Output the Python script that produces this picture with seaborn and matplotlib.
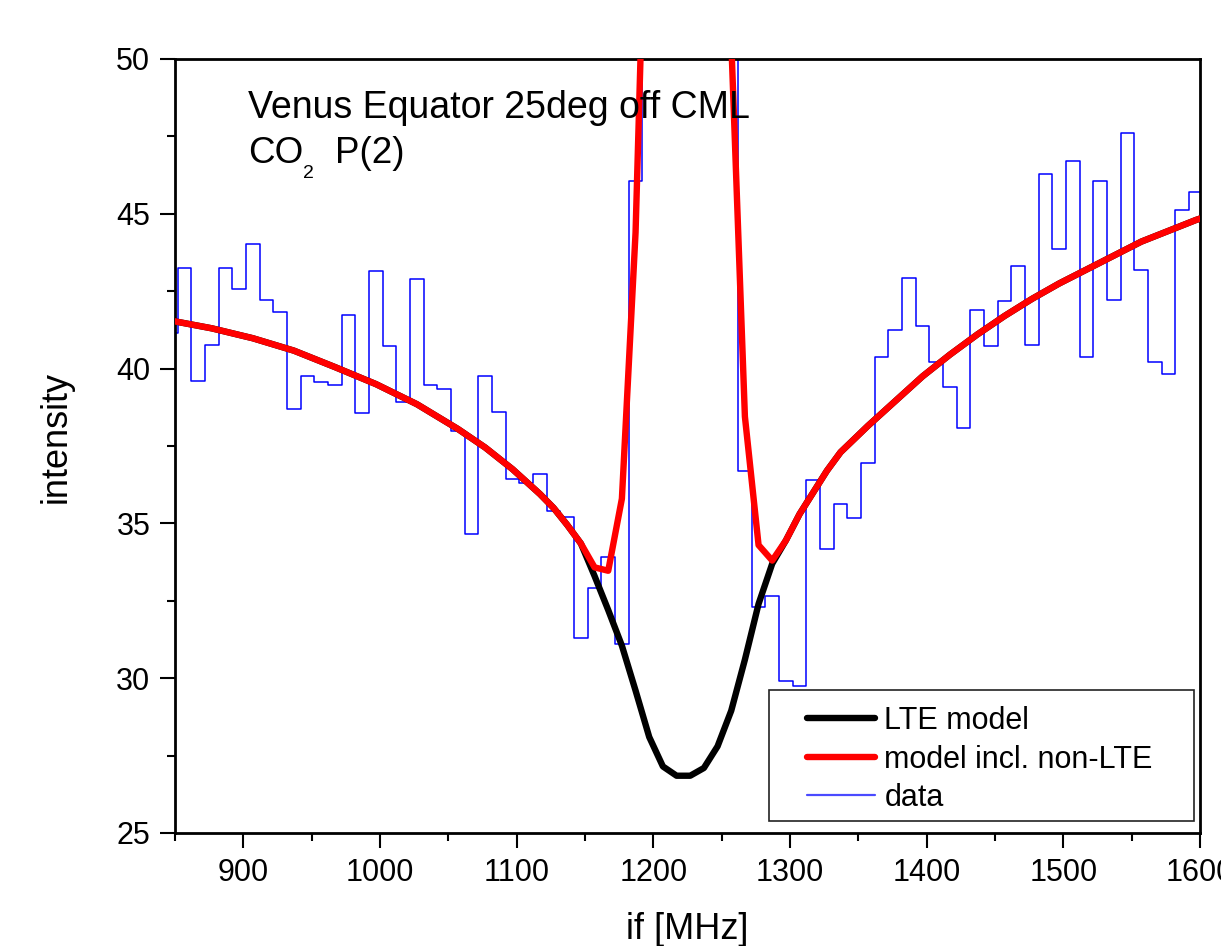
import numpy as np
import pandas as pd
import matplotlib
matplotlib.use("Agg")
import matplotlib.pyplot as plt
from matplotlib.ticker import MultipleLocator
from matplotlib.patches import Rectangle
from matplotlib.lines import Line2D
import seaborn as sns

# ---------------- data ----------------
# observed spectrum: bin centres (MHz) and intensities (bins above 50 are off-scale, estimated)
data_freq = [847, 857, 867, 877, 887, 897, 907, 917, 927, 937,
             947, 957, 967, 977, 987, 997, 1007, 1017, 1027, 1037,
             1047, 1057, 1067, 1077, 1087, 1097, 1107, 1117, 1127, 1137,
             1147, 1157, 1167, 1177, 1187, 1197, 1207, 1217, 1227, 1237,
             1247, 1257, 1267, 1277, 1287, 1297, 1307, 1317, 1327, 1337,
             1347, 1357, 1367, 1377, 1387, 1397, 1407, 1417, 1427, 1437,
             1447, 1457, 1467, 1477, 1487, 1497, 1507, 1517, 1527, 1537,
             1547, 1557, 1567, 1577, 1587, 1597, 1607]
data_int = [41.14, 43.24, 39.61, 40.76, 43.25, 42.56, 44.04, 42.22, 41.82, 38.69,
            39.75, 39.58, 39.46, 41.73, 38.56, 43.16, 40.74, 38.91, 42.89, 39.47,
            39.34, 38.00, 34.65, 39.75, 38.60, 36.42, 36.30, 36.59, 35.39, 35.20,
            31.29, 32.91, 33.93, 31.10, 46.06, 58.0, 68.0, 76.0, 78.0, 72.0,
            64.0, 54.0, 36.70, 32.31, 32.65, 29.92, 29.76, 36.39, 34.16, 35.63,
            35.18, 36.94, 40.36, 41.25, 42.93, 41.39, 40.20, 39.40, 38.09, 41.89,
            40.73, 42.18, 43.31, 40.77, 46.29, 43.87, 46.72, 40.37, 46.07, 42.23,
            47.61, 43.17, 40.20, 39.84, 45.11, 45.69, 45.50]

# model curves (MHz, intensity)
model_freq = [847, 877, 907, 937, 967, 997, 1027, 1057, 1077, 1097,
              1117, 1127, 1137, 1147, 1157, 1167, 1177, 1187, 1197, 1207,
              1217, 1227, 1237, 1247, 1257, 1267, 1277, 1287, 1297, 1307,
              1317, 1327, 1337, 1357, 1377, 1397, 1417, 1437, 1457, 1477,
              1497, 1517, 1537, 1557, 1577, 1597, 1607]
lte_model = [41.55, 41.30, 40.98, 40.58, 40.05, 39.50, 38.85, 38.05, 37.45, 36.75,
             35.95, 35.50, 34.95, 34.35, 33.30, 32.20, 31.05, 29.60, 28.10, 27.15,
             26.85, 26.85, 27.10, 27.80, 28.95, 30.60, 32.40, 33.70, 34.45, 35.30,
             36.00, 36.70, 37.30, 38.15, 38.95, 39.75, 40.45, 41.10, 41.70, 42.25,
             42.75, 43.20, 43.65, 44.10, 44.45, 44.80, 44.95]
nonlte_model = [41.55, 41.30, 40.98, 40.58, 40.05, 39.50, 38.85, 38.05, 37.45, 36.75,
                35.95, 35.50, 34.95, 34.35, 33.58, 33.47, 35.80, 44.40, 60.0, 68.0,
                72.0, 70.0, 64.0, 56.0, 50.6, 38.45, 34.30, 33.80, 34.45, 35.30,
                36.00, 36.70, 37.30, 38.15, 38.95, 39.75, 40.45, 41.10, 41.70, 42.25,
                42.75, 43.20, 43.65, 44.10, 44.45, 44.80, 44.95]

legend_labels = ["LTE model", "model incl. non-LTE", "data"]
title_line1 = "Venus Equator 25deg off CML"
x_label = "if [MHz]"
y_label = "intensity"

# ---------------- style ----------------
sns.set_style("ticks")
plt.rcParams["font.family"] = ["Liberation Sans", "DejaVu Sans"]
plt.rcParams["text.color"] = "black"
plt.rcParams["axes.labelcolor"] = "black"
plt.rcParams["xtick.color"] = "black"
plt.rcParams["ytick.color"] = "black"

W, H = 1221, 946
fig = plt.figure(figsize=(W / 100, H / 100), dpi=100)
ax = fig.add_axes([175 / W, 1 - 833 / H, (1200 - 175) / W, (833 - 59) / H])

df_data = pd.DataFrame({"freq": data_freq, "intensity": data_int})
df_model = pd.DataFrame({"freq": model_freq, "lte": lte_model, "nonlte": nonlte_model})

sns.lineplot(data=df_data, x="freq", y="intensity", ax=ax, color="#0000ff",
             linewidth=1.1, drawstyle="steps-mid", estimator=None, zorder=2)
sns.lineplot(data=df_model, x="freq", y="lte", ax=ax, color="black",
             linewidth=4.6, estimator=None, sort=False, zorder=3)
sns.lineplot(data=df_model, x="freq", y="nonlte", ax=ax, color="#ff0000",
             linewidth=4.6, estimator=None, sort=False, zorder=4)

ax.set_xlim(850, 1600)
ax.set_ylim(25, 50)
ax.xaxis.set_major_locator(MultipleLocator(100))
ax.xaxis.set_minor_locator(MultipleLocator(50))
ax.yaxis.set_major_locator(MultipleLocator(5))
ax.yaxis.set_minor_locator(MultipleLocator(2.5))
ax.tick_params(which="major", direction="out", length=10.8, width=1.5,
               labelsize=22, pad=7, color="black", labelcolor="black")
ax.tick_params(which="minor", direction="out", length=5.6, width=1.5, color="black")
for s in ax.spines.values():
    s.set_linewidth(2.0)
    s.set_color("black")
    s.set_visible(True)

ax.set_xlabel(x_label, fontsize=26, color="black")
ax.set_ylabel(y_label, fontsize=26, color="black")
ax.xaxis.set_label_coords(0.5, (833 - 912) / 774)
ax.yaxis.set_label_coords((74 - 175) / 1025, (833 - 437) / 774)

# annotation text
fig.text(248 / W, 1 - 118 / H, title_line1, fontsize=27, va="baseline", ha="left", color="black")
fig.text(248 / W, 1 - 163 / H, "CO", fontsize=26.5, va="baseline", ha="left", color="black")
fig.text(303 / W, 1 - 178 / H, "2", fontsize=14, va="baseline", ha="left", color="black")
fig.text(335 / W, 1 - 163 / H, "P(2)", fontsize=26.5, va="baseline", ha="left", color="black")

# legend with square frame
rect = Rectangle(((769 - 175) / 1025, (833 - 821) / 774),
                 (1194 - 769) / 1025, (821 - 690) / 774,
                 transform=ax.transAxes, facecolor="white", edgecolor="#222222",
                 linewidth=1.2, zorder=8, clip_on=False)
ax.add_patch(rect)
handles = [Line2D([], [], color="black", linewidth=4.6),
           Line2D([], [], color="#ff0000", linewidth=4.6),
           Line2D([], [], color="#4a4aff", linewidth=1.6)]
leg = ax.legend(handles, legend_labels, loc="upper left",
                bbox_to_anchor=(807 / W, 1 - 706 / H), bbox_transform=fig.transFigure,
                frameon=False, fontsize=22, borderpad=0, borderaxespad=0,
                handlelength=2.23, handletextpad=0.3, labelspacing=0.28)
for t in leg.get_texts():
    t.set_color("black")
leg.set_zorder(9)

fig.savefig("out.png", dpi=100)
